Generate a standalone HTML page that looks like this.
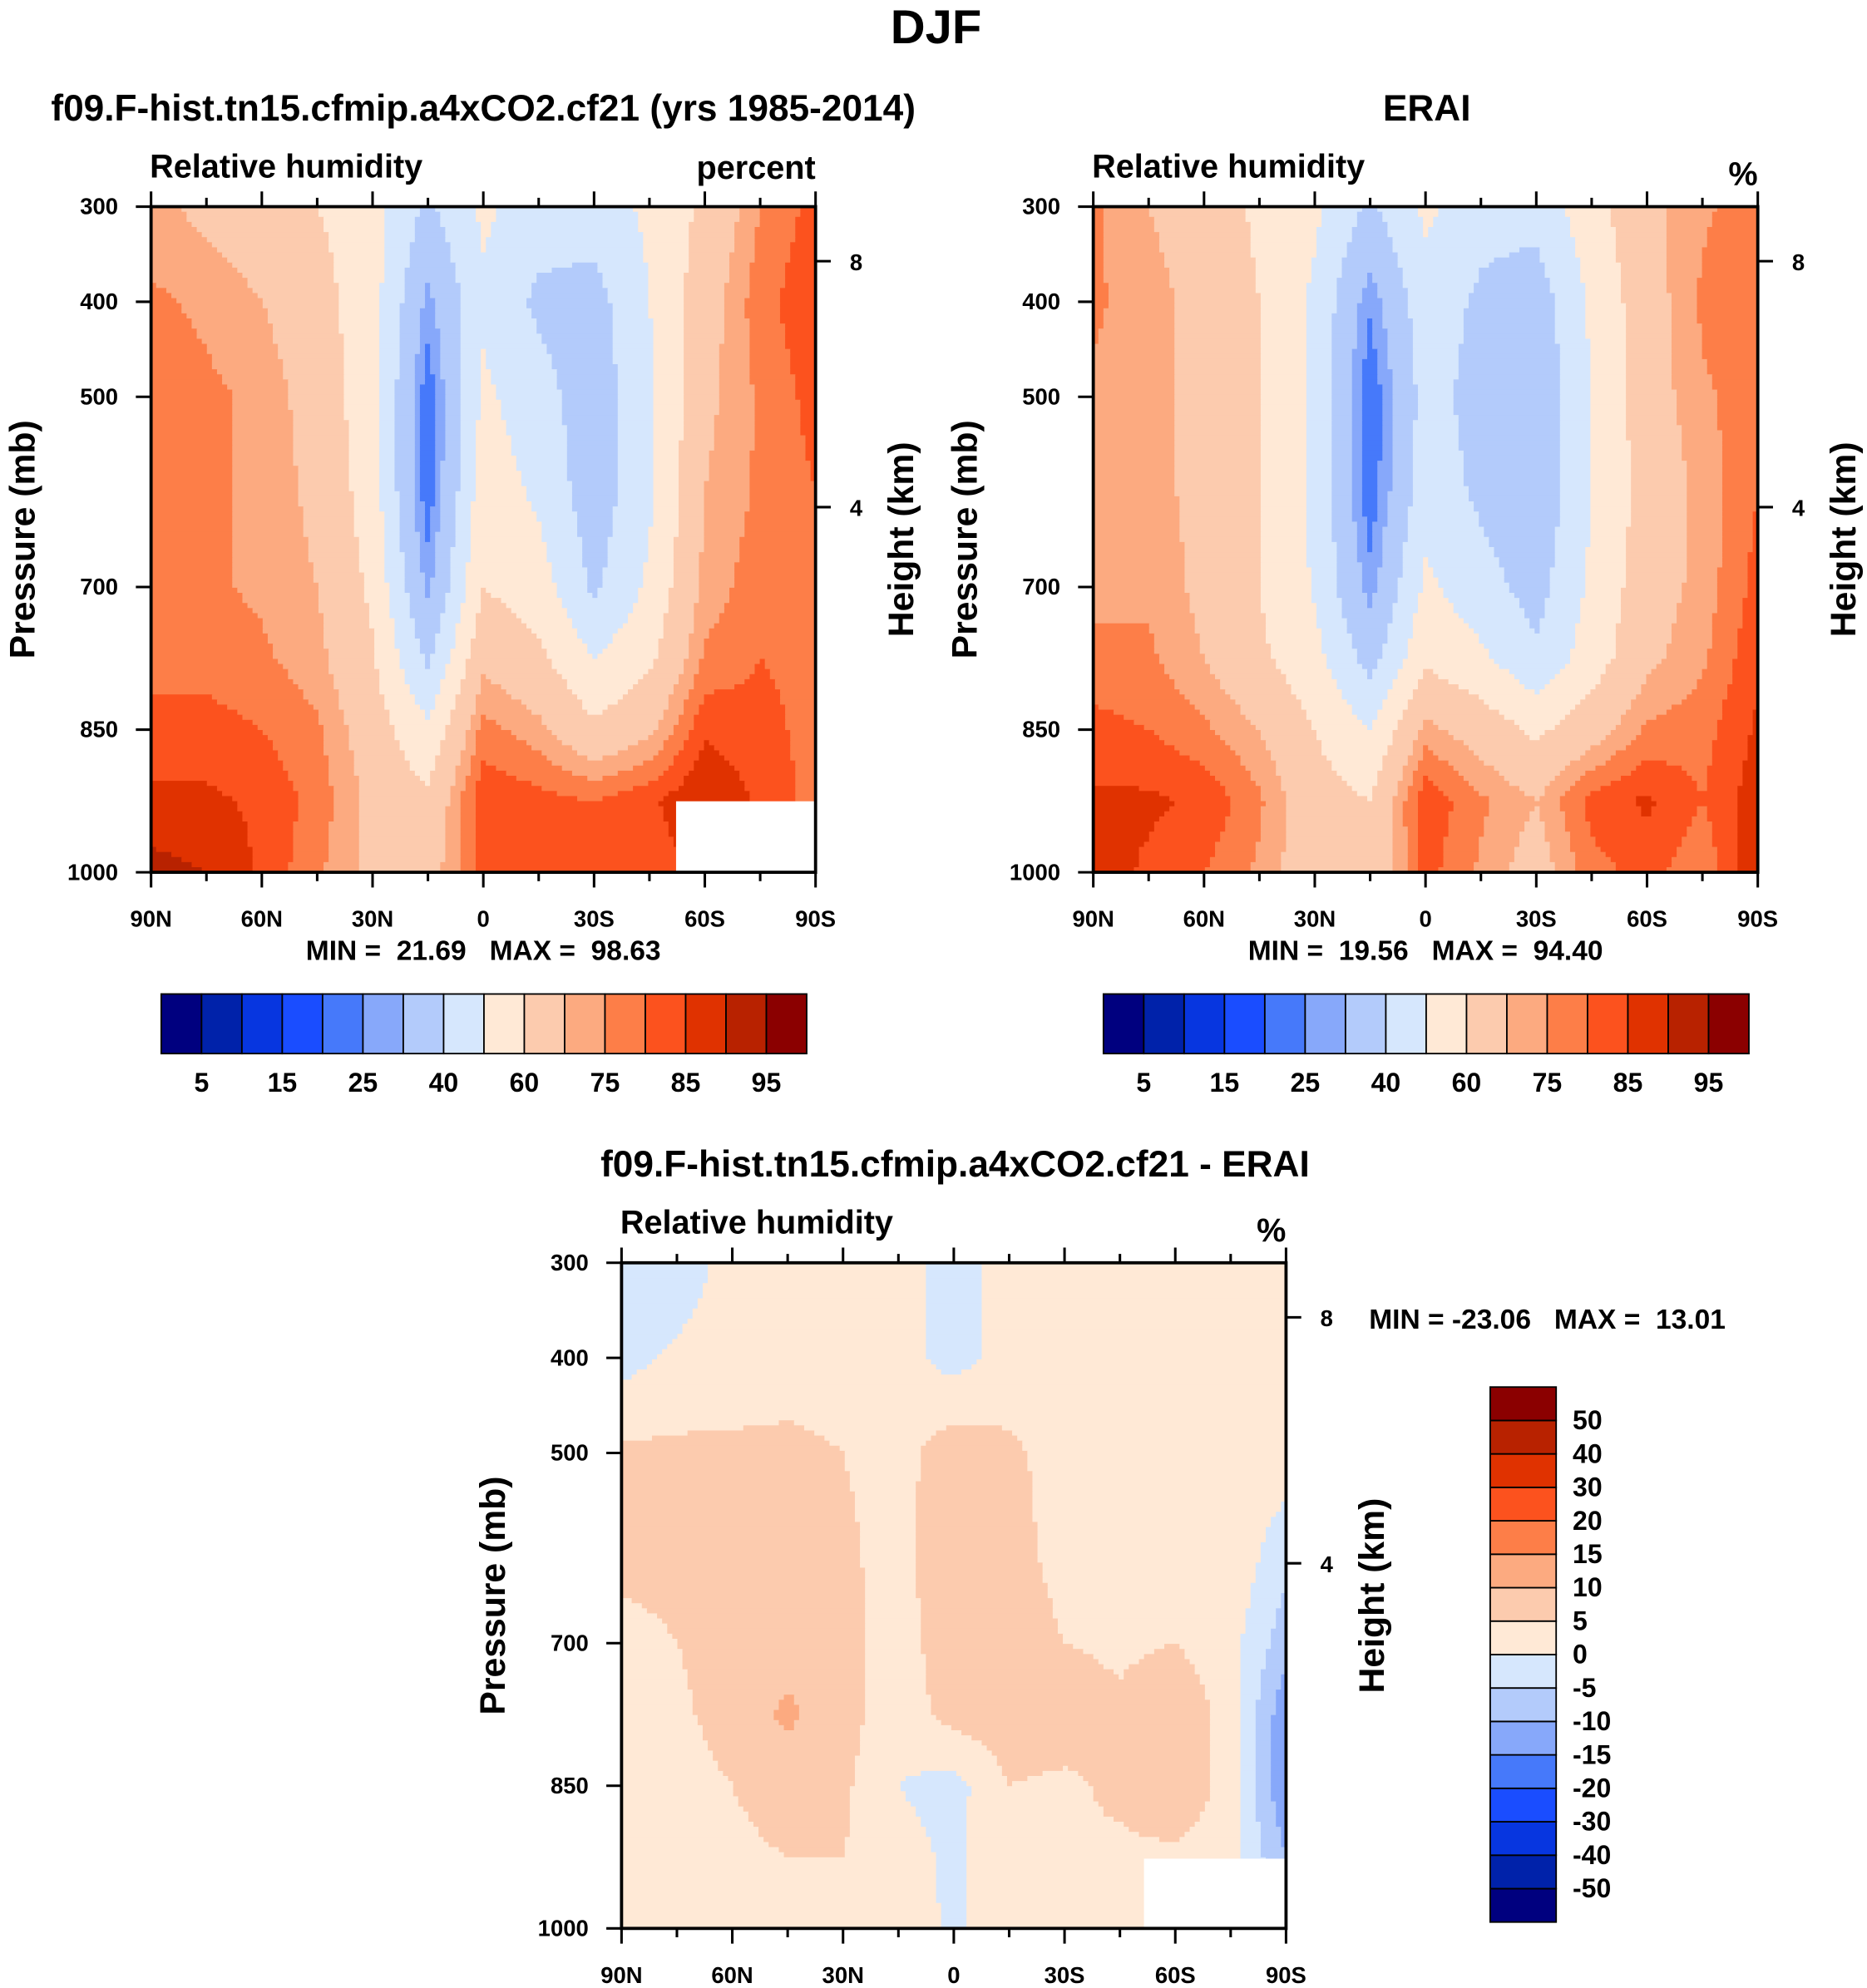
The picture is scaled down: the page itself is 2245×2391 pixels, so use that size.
<!DOCTYPE html>
<html><head><meta charset="utf-8"><style>
html,body{margin:0;padding:0;background:#fff;}
svg{display:block;font-family:"Liberation Sans",Arial,sans-serif;font-weight:bold;}
text{white-space:pre;}
</style></head><body>
<svg id="fig" xmlns="http://www.w3.org/2000/svg" width="2245" height="2391" viewBox="0 0 1472 1568" xml:space="preserve">
<text x="738" y="34" font-size="38" text-anchor="middle">DJF</text>
<g id="p1"></g>
<g id="p2"></g>
<g id="p3"></g>
</svg>
<script>
const NS="http://www.w3.org/2000/svg";
const lats=[90,75,60,45,30,15,0,-15,-30,-45,-60,-75,-90];
const pres=[300,400,500,600,700,775,850,925,1000];
const modelRH=[
[72,68,65,60,54,38,52,45,45,52,62,75,82],
[76,74,70,64,54,28,48,38,36,50,66,78,84],
[78,76,74,66,54,21,52,44,34,48,68,76,82],
[76,76,74,68,55,21,56,48,34,48,70,76,80],
[76,76,74,70,58,28,60,55,38,52,72,78,78],
[78,78,76,72,61,38,68,62,50,58,76,80,78],
[82,82,80,76,65,52,77,72,62,68,84,82,78],
[86,86,84,78,68,62,84,82,80,84,90,84,78],
[92,90,84,76,68,66,82,82,82,82,86,84,78]];
const eraiRH=[
[76,70,66,58,52,38,52,44,44,56,68,74,78],
[76,72,68,60,48,26,46,38,34,52,66,76,80],
[74,72,68,60,48,20,44,36,32,50,66,74,78],
[72,72,68,60,48,21,46,38,32,50,64,72,80],
[74,74,68,60,49,27,52,44,36,52,66,72,82],
[76,76,70,62,53,36,58,52,42,55,68,74,84],
[82,80,76,70,60,50,72,66,58,66,76,78,86],
[86,86,84,76,64,60,84,76,70,82,86,80,88],
[88,84,80,74,64,62,82,74,66,78,82,76,90]];
const diffRH=[
[-5,-3,2,2,2,2,-2,2,2,2,2,2,2],
[-2,1,2,3,3,2,-2,2,2,2,2,2,3],
[6,6,6,6,5,3,8,6,3,3,3,3,3],
[6,6,7,7,6,3,10,7,3,3,3,4,-3],
[4,5,7,8,7,2,9,8,5,4,5,2,-8],
[3,4,7,11,7,2,7,8,8,6,9,3,-14],
[2,3,5,7,6,0,-2,5,4,6,9,3,-15],
[2,3,4,5,5,2,-1,4,5,4,4,2,-10],
[3,5,4,3,3,3,-1,3,3,3,3,3,3]];
const rhLevels=[5,10,15,20,25,30,40,50,60,70,75,80,85,90,95];
const rhLabels=["5","15","25","40","60","75","85","95"];
const diffLevels=[-50,-40,-30,-20,-15,-10,-5,0,5,10,15,20,30,40,50];
const colors=["#00007f","#0022aa","#0736e0","#1a4dff","#4679fa","#87a8fa","#b3cbfb","#d6e7fd","#ffe9d6","#fccbae","#fcaa80","#fd7e48","#fc521e","#e03200","#b82200","#8b0000"];
const xTickLabels=["90N","60N","30N","0","30S","60S","90S"];
const pTicks=[300,400,500,700,850,1000];

function el(tag,attrs,parent,txt){const e=document.createElementNS(NS,tag);for(const k in attrs)e.setAttribute(k,attrs[k]);if(txt!==undefined)e.textContent=txt;parent.appendChild(e);return e;}
function colorFor(v,lev){let i=0;while(i<lev.length&&v>=lev[i])i++;return colors[i];}
function sample(grid,lat,p){
  let c=(90-lat)/15;let c0=Math.min(Math.floor(c),11);let fc=c-c0;
  let r=0;while(r<pres.length-2&&p>pres[r+1])r++;let fr=(p-pres[r])/(pres[r+1]-pres[r]);
  const a=grid[r][c0]*(1-fc)+grid[r][c0+1]*fc;const b=grid[r+1][c0]*(1-fc)+grid[r+1][c0+1]*fc;
  return a*(1-fr)+b*fr;}

function panel(g,x0,y0,grid,lev,title,titleX,unit,stat,statX,white){
  const W=524,H=525;
  const ys=p=>y0+(p-300)/700*H;
  const clip=el("g",{},g);
  const NX=131,NY=131;
  for(let j=0;j<NY;j++){
    const p0=300+j*700/NY,p1=300+(j+1)*700/NY;const pm=(p0+p1)/2;
    let start=0,cur=null;
    for(let i=0;i<=NX;i++){
      let col=null;
      if(i<NX){const lat=90-(i+0.5)*180/NX;col=colorFor(sample(grid,lat,pm),lev);}
      if(col!==cur){
        if(cur!==null){
          const r=el("rect",{x:(x0+start*W/NX).toFixed(2),y:ys(p0).toFixed(2),width:((i-start)*W/NX+0.6).toFixed(2),height:(H/NY+0.6).toFixed(2),fill:cur},clip);
          
          
        }
        cur=col;start=i;}
    }
  }
  if(white){el("rect",{x:x0+white[0],y:y0+white[1],width:W-white[0],height:H-white[1],fill:"#fff",},g);}
  el("rect",{x:x0,y:y0,width:W,height:H,fill:"none",stroke:"#000","stroke-width":2.5,},g);
  for(let k=0;k<=12;k++){const x=x0+k*W/12;const L=k%2==0?12:7;
    el("line",{x1:x,y1:y0,x2:x,y2:y0-L,stroke:"#000","stroke-width":2},g);
    el("line",{x1:x,y1:y0+H,x2:x,y2:y0+H+L,stroke:"#000","stroke-width":2},g);}
  xTickLabels.forEach((t,k)=>{el("text",{x:x0+k*W/6,y:y0+H+43,"font-size":18,"text-anchor":"middle",},g,t);});
  pTicks.forEach(p=>{el("line",{x1:x0,y1:ys(p),x2:x0-12,y2:ys(p),stroke:"#000","stroke-width":2},g);
    el("text",{x:x0-26,y:ys(p)+6,"font-size":18,"text-anchor":"end",},g,p);});
  [[8,206],[4,400]].forEach(([h,y])=>{const yy=y0+(y-163);el("line",{x1:x0+W,y1:yy,x2:x0+W+12,y2:yy,stroke:"#000","stroke-width":2},g);
    el("text",{x:x0+W+27,y:yy+7,"font-size":18,},g,h);});
  el("text",{x:0,y:0,"font-size":28,"text-anchor":"middle",transform:`translate(${x0-92},${y0+H/2}) rotate(-90)`,},g,"Pressure (mb)");
  el("text",{x:0,y:0,"font-size":28,"text-anchor":"middle",transform:`translate(${x0+W+77},${y0+H/2}) rotate(-90)`,},g,"Height (km)");
  el("text",{x:x0-1,y:y0-23,"font-size":26,},g,"Relative humidity");
  el("text",{x:x0+W,y:y0-(unit=="%"?17:22),"font-size":26,"text-anchor":"end",},g,unit);
  el("text",{x:titleX,y:y0-68,"font-size":29,"text-anchor":"middle",},g,title);
  if(statX) el("text",{x:statX[0],y:statX[1],"font-size":22,"text-anchor":"middle",},g,stat);
}
function hbar(g,x0,y0){const W=509,H=47,n=16;
  for(let i=0;i<n;i++){const r=el("rect",{x:x0+i*W/n,y:y0,width:W/n,height:H,fill:colors[i],stroke:"#000","stroke-width":1.2},g);
    }
  rhLabels.forEach((t,k)=>{el("text",{x:x0+(1+2*k)*W/n,y:y0+77,"font-size":21,"text-anchor":"middle",},g,t);});
}
const g1=document.getElementById("p1"),g2=document.getElementById("p2"),g3=document.getElementById("p3");
panel(g1,119,163,modelRH,rhLevels,"f09.F-hist.tn15.cfmip.a4xCO2.cf21 (yrs 1985-2014)",381,"percent","MIN =  21.69   MAX =  98.63",[381,757],[414,469]);
panel(g2,862,163,eraiRH,rhLevels,"ERAI",1125,"%","MIN =  19.56   MAX =  94.40",[1124,757],null);
panel(g3,490,996,diffRH,diffLevels,"f09.F-hist.tn15.cfmip.a4xCO2.cf21 - ERAI",753,"%","MIN = -23.06   MAX =  13.01",[1220,1048],[412,470]);
hbar(g1,127,784);hbar(g2,870,784);
(function(){const x0=1175,y0=1094,W=52,H=422,n=16;
  for(let i=0;i<n;i++){const r=el("rect",{x:x0,y:y0+(n-1-i)*H/n,width:W,height:H/n,fill:colors[i],stroke:"#000","stroke-width":1.2},g3);
    }
  diffLevels.forEach((v,k)=>{el("text",{x:x0+W+13,y:y0+(n-1-k)*H/n+7,"font-size":21,},g3,v);});
})();
</script>
</body></html>
